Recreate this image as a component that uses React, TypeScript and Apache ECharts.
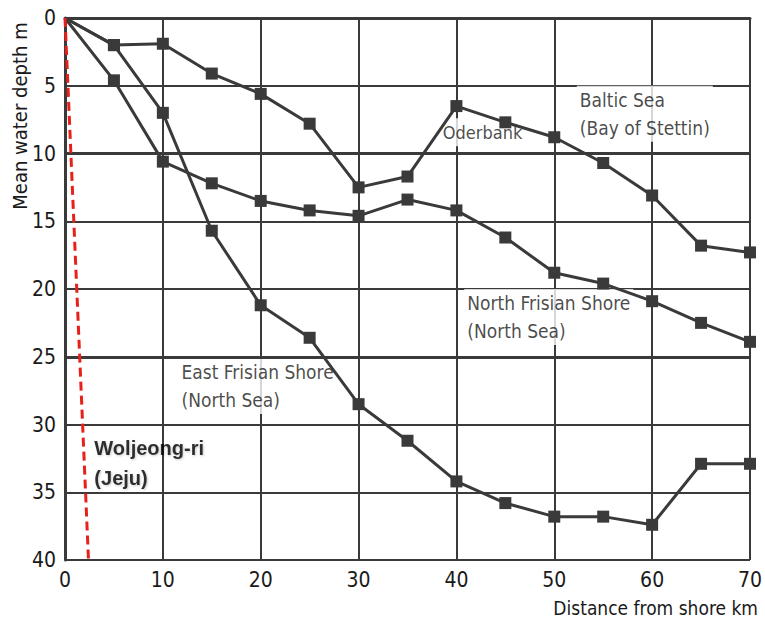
import React, { useEffect, useRef } from "react";
import * as echarts from "echarts";

// Distance from shore (km) at which depths were sampled
const distanceKm = [0, 5, 10, 15, 20, 25, 30, 35, 40, 45, 50, 55, 60, 65, 70];

// Mean water depth (m) along each profile
const balticDepth = [0, 2.0, 1.9, 4.1, 5.6, 7.8, 12.5, 11.7, 6.5, 7.7, 8.8, 10.7, 13.1, 16.8, 17.3];
const northFrisianDepth = [0, 4.6, 10.6, 12.2, 13.5, 14.2, 14.6, 13.4, 14.2, 16.2, 18.8, 19.6, 20.9, 22.5, 23.9];
const eastFrisianDepth = [0, 2.0, 7.0, 15.7, 21.2, 23.6, 28.5, 31.2, 34.2, 35.8, 36.8, 36.8, 37.4, 32.9, 32.9];

// Woljeong-ri (Jeju) profile: straight slope from the shore
const woljeongX = [0, 2.4];
const woljeongDepth = [0, 40];

// Axis ticks
const xTicks = [0, 10, 20, 30, 40, 50, 60, 70];
const yTicks = [0, 5, 10, 15, 20, 25, 30, 35, 40];
const emphasisDepths = [10, 25];

// Text annotations, anchored at their top-left corner in data units
const annotationText = [
  "Baltic Sea\n(Bay of Stettin)",
  "Oderbank",
  "North Frisian Shore\n(North Sea)",
  "East Frisian Shore\n(North Sea)",
];
const annotationX = [52.3, 38.3, 40.8, 11.6];
const annotationY = [5.0, 7.4, 20.0, 25.1];
const annotationSize = [19, 18, 19, 19];

const woljeongLabel = "Woljeong-ri\n(Jeju)";
const woljeongLabelPos = [3.0, 30.6];

const techFont = '"Liberation Sans Narrow", "DejaVu Sans Condensed", "Liberation Sans", sans-serif';
const ink = "#3a3a3a";
const textInk = "#1a1a1a";

export default function App() {
  const ref = useRef<HTMLDivElement>(null);

  useEffect(() => {
    const chart = echarts.init(ref.current!, null, { renderer: "svg" });

    const profile = (ys: number[]) =>
      distanceKm.map((x, i) => (i === 0 ? { value: [x, ys[i]], symbol: "none" } : [x, ys[i]]));

    const profileSeries = (name: string, ys: number[]) => ({
      name,
      type: "line",
      z: 5,
      data: profile(ys),
      symbol: "rect",
      symbolSize: 12,
      showAllSymbol: true,
      itemStyle: { color: ink },
      lineStyle: { color: ink, width: 3 },
    });

    chart.setOption({
      animation: false,
      backgroundColor: "#ffffff",
      grid: { left: 65, top: 18, right: 7, bottom: 60, containLabel: false },
      xAxis: {
        type: "value",
        min: xTicks[0],
        max: xTicks[xTicks.length - 1],
        interval: 10,
        axisLine: { show: true, lineStyle: { color: ink, width: 3 } },
        axisTick: { show: false },
        axisLabel: { color: textInk, fontFamily: techFont, fontSize: 21, margin: 9 },
        splitLine: { show: true, lineStyle: { color: ink, width: 2 } },
      },
      yAxis: {
        type: "value",
        inverse: true,
        min: yTicks[0],
        max: yTicks[yTicks.length - 1],
        interval: 5,
        axisLine: { show: true, lineStyle: { color: ink, width: 3 } },
        axisTick: { show: false },
        axisLabel: { color: textInk, fontFamily: techFont, fontSize: 21, margin: 9 },
        splitLine: { show: true, lineStyle: { color: ink, width: 2 } },
      },
      series: [
        {
          name: "grid emphasis",
          type: "line",
          data: [],
          z: 2,
          markLine: {
            silent: true,
            symbol: "none",
            label: { show: false },
            lineStyle: { color: ink, width: 3, type: "solid" },
            data: emphasisDepths.map((d) => ({ yAxis: d })),
          },
        },
        {
          name: "annotations",
          type: "scatter",
          z: 3,
          symbolSize: 0,
          data: annotationText.map((t, i) => ({
            value: [annotationX[i], annotationY[i]],
            name: t,
            label: { fontSize: annotationSize[i] },
          })),
          label: {
            show: true,
            position: [0, 0],
            align: "left",
            verticalAlign: "top",
            formatter: (p: any) => p.name,
            fontFamily: techFont,
            fontSize: 19,
            lineHeight: 28,
            color: textInk,
            backgroundColor: "#ffffff",
            padding: [0, 3, 0, 3],
          },
        },
        profileSeries("Baltic Sea (Bay of Stettin)", balticDepth),
        profileSeries("North Frisian Shore (North Sea)", northFrisianDepth),
        profileSeries("East Frisian Shore (North Sea)", eastFrisianDepth),
        {
          name: "Woljeong-ri (Jeju)",
          type: "line",
          z: 6,
          data: woljeongX.map((x, i) => [x, woljeongDepth[i]]),
          symbol: "none",
          lineStyle: { color: "#e8201a", width: 3, type: [9, 5] },
        },
        {
          name: "Woljeong-ri label",
          type: "scatter",
          z: 6,
          symbolSize: 0,
          data: [{ value: woljeongLabelPos, name: woljeongLabel }],
          label: {
            show: true,
            position: [0, 0],
            align: "left",
            verticalAlign: "top",
            formatter: (p: any) => p.name,
            fontFamily: '"Liberation Sans", "Open Sans", sans-serif',
            fontWeight: "bold",
            fontSize: 20,
            lineHeight: 30,
            color: "#000",
            textShadowColor: "rgba(0,0,0,0.25)",
            textShadowBlur: 2,
            textShadowOffsetX: 1,
            textShadowOffsetY: 1,
          },
        },
      ],
      graphic: [
        {
          type: "text",
          x: 20,
          y: 116,
          rotation: Math.PI / 2,
          style: {
            text: "Mean water depth m",
            fontFamily: techFont,
            fontSize: 20,
            fill: textInk,
            align: "center",
            verticalAlign: "middle",
          },
        },
        {
          type: "text",
          x: 758,
          y: 608,
          style: {
            text: "Distance from shore km",
            fontFamily: techFont,
            fontSize: 19,
            fill: textInk,
            align: "right",
            verticalAlign: "middle",
          },
        },
      ],
    });

    return () => chart.dispose();
  }, []);

  return (
    <div
      ref={ref}
      style={{ position: "fixed", left: 0, top: 0, width: 765, height: 620, background: "#fff" }}
    />
  );
}
